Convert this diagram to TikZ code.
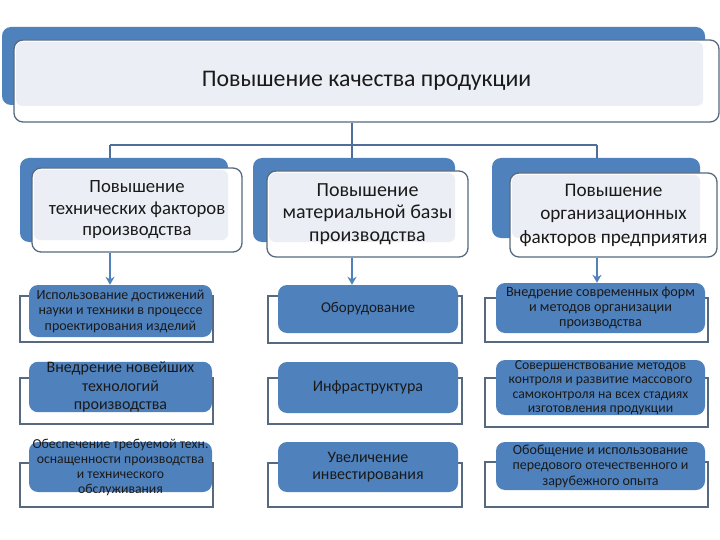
\documentclass[tikz,border=0pt]{standalone}
\usepackage{fontspec}
\setmainfont{Carlito}
\usetikzlibrary{arrows.meta}
\definecolor{qblue}{HTML}{4F81BD}
\definecolor{qframe}{HTML}{56697F}
\definecolor{qshade}{HTML}{EBEFF5}
\definecolor{qline}{HTML}{4F6F9A}
\definecolor{qtext}{HTML}{1A1A1A}

\begin{document}
\begin{tikzpicture}[x=1pt, y=-1pt,
    sz/.style 2 args={minimum width=#1pt, minimum height=#2pt},
    hdrback/.style={fill=qblue, rounded corners=9pt, inner sep=0pt},
    hdrfront/.style 2 args={draw=qframe, line width=1.3pt, fill=white, rounded corners=9pt,
                inner sep=0pt, align=center, text=qtext,
                path picture={\fill[qshade, rounded corners=6pt]
                  ([shift={(2pt,-2pt)}]path picture bounding box.north west) rectangle
                  ([shift={(-#1,#2)}]path picture bounding box.south east);}},
    item/.style={fill=qblue, rounded corners=9pt, inner xsep=1pt, inner ysep=0pt,
                align=center, text=qtext},
    itemframe/.style={draw=qframe, line width=1.3pt, inner sep=0pt},
    link/.style={draw=qline, line width=1.2pt},
    arr/.style={-{Stealth[length=8pt,width=9pt]}, qblue, line width=1.5pt}]
  \useasboundingbox (0,0) rectangle (720,540);
  \fill[white] (0,0) rectangle (720,540);

  \node[hdrback, sz={703}{78}] (topback) at (353.5,66) {};
  \node[hdrfront={16pt}{16pt}, sz={705}{82}, font=\fontsize{23.8}{28}\selectfont] (top) at (366.5,81)
    {Повышение качества продукции};

  \coordinate (bus) at (352,145);
  \coordinate (busl) at (110,145);
  \coordinate (busr) at (597,145);

  \node[hdrback, sz={208}{84}] (hb1) at (124,200) {};
  \node[hdrback, sz={202}{84}] (hb2) at (354,200) {};
  \node[hdrback, sz={208}{80}] (hb3) at (596,198) {};
  \draw[link] (bus |- top.south) -- (bus);
  \draw[link] (busl) -- (busr);
  \draw[link] (busl) -- (busl |- hb1.north);
  \draw[link] (bus) -- (bus |- hb2.north);
  \draw[link] (busr) -- (busr |- hb3.north);

  \node[hdrfront={14pt}{12pt}, sz={210}{84}, font=\fontsize{18.7}{21.5}\selectfont] (h1) at (137,210)
    {Повышение\\технических факторов\\производства};
  \node[hdrfront={13pt}{15pt}, sz={201}{86}, font=\fontsize{20}{22.5}\selectfont] (h2) at (367.5,214)
    {Повышение\\материальной базы\\производства};
  \node[hdrfront={17pt}{19pt}, sz={207}{84}, font=\fontsize{19.2}{23.5}\selectfont] (h3) at (613.5,215)
    {Повышение\\организационных\\факторов предприятия};

  \node[itemframe, sz={193}{46}] (f11) at (116.5,319) {};
  \node[item, sz={183}{52}, font=\fontsize{14}{15.5}\selectfont] (i11) at (120.5,311)
    {Использование достижений\\науки и техники в процессе\\проектирования изделий};
  \node[itemframe, sz={193}{46}] (f12) at (116.5,401) {};
  \node[item, sz={183}{50}, font=\fontsize{16}{18.5}\selectfont] (i12) at (120.5,387)
    {Внедрение новейших\\технологий\\производства};
  \node[itemframe, sz={193}{44}] (f13) at (116.5,485) {};
  \node[item, sz={183}{50}] (i13) at (120.5,467) {};
  \node[text=qtext, align=center, inner sep=0pt, font=\fontsize{13.7}{15}\selectfont] (t13) at (i13)
    {Обеспечение требуемой техн.\\оснащенности производства\\и технического\\обслуживания};

  \node[itemframe, sz={194}{47}] (f21) at (365,319.5) {};
  \node[item, sz={180}{48}, font=\fontsize{15}{17}\selectfont] (i21) at (368,309) {Оборудование};
  \node[itemframe, sz={194}{46}] (f22) at (365,401) {};
  \node[item, sz={180}{51}, font=\fontsize{16}{17}\selectfont] (i22) at (368,387.5) {Инфраструктура};
  \node[itemframe, sz={194}{44}] (f23) at (365,485) {};
  \node[item, sz={180}{50}, font=\fontsize{16}{17}\selectfont] (i23) at (368,467)
    {Увеличение\\инвестирования};

  \node[itemframe, sz={223}{44}] (f31) at (596.5,320) {};
  \node[item, sz={209}{50}, font=\fontsize{14.2}{15}\selectfont] (i31) at (600.5,308)
    {Внедрение современных форм\\и методов организации\\производства};
  \node[itemframe, sz={223}{49}] (f32) at (596.5,402.5) {};
  \node[item, sz={209}{55}] (i32) at (600.5,387.5) {};
  \node[text=qtext, align=center, inner sep=0pt, font=\fontsize{13.7}{14.5}\selectfont] (t32) at (i32)
    {Совершенствование методов\\контроля и развитие массового\\самоконтроля на всех стадиях\\изготовления продукции};
  \node[itemframe, sz={223}{45}] (f33) at (596.5,484.5) {};
  \node[item, sz={209}{48}, font=\fontsize{14}{15.5}\selectfont] (i33) at (600.5,466)
    {Обобщение и использование\\передового отечественного и\\зарубежного опыта};

  \draw[arr] (busl |- h1.south) -- (busl |- i11.north);
  \draw[arr] (bus |- h2.south) -- (bus |- i21.north);
  \draw[arr] (busr |- h3.south) -- (busr |- i31.north);
\end{tikzpicture}
\end{document}
